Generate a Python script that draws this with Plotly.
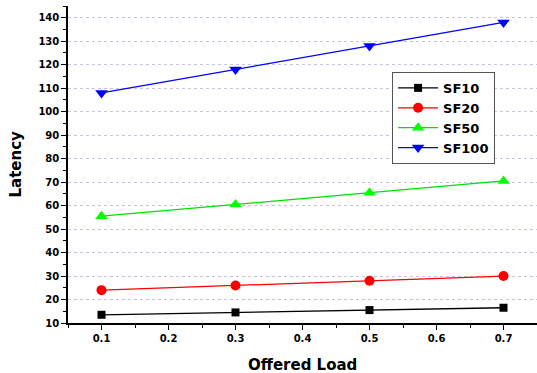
import plotly.graph_objects as go

offered_load = [0.1, 0.3, 0.5, 0.7]
sf10 = [13.5, 14.5, 15.5, 16.5]
sf20 = [24, 26, 28, 30]
sf50 = [55.5, 60.5, 65.5, 70.5]
sf100 = [108, 118, 128, 138]
x_ticks = [0.1, 0.2, 0.3, 0.4, 0.5, 0.6, 0.7]
y_ticks = list(range(10, 141, 10))

series = [
    ("SF10", sf10, "black", "black", "square", 8),
    ("SF20", sf20, "#ff0000", "#ff0000", "circle", 10),
    ("SF50", sf50, "#00e000", "#00ff00", "triangle-up", 11),
    ("SF100", sf100, "#0000ff", "#0000ff", "triangle-down", 11),
]

fig = go.Figure()
for name, vals, lc, mc, sym, sz in series:
    fig.add_trace(go.Scatter(
        x=offered_load, y=vals, name=name, mode="lines+markers",
        line=dict(color=lc, width=1.3),
        marker=dict(symbol=sym, size=sz, color=mc, line=dict(width=0)),
    ))

font = "DejaVu Sans, sans-serif"
title_font = dict(family=font, size=15, color="black", weight="bold")
tick_font = dict(family=font, size=10, color="black", weight="bold")
fig.update_layout(
    width=537, height=373,
    margin=dict(l=68, r=0, t=6, b=50, autoexpand=False),
    paper_bgcolor="white", plot_bgcolor="white",
    font=dict(family=font, color="black"),
    showlegend=True,
    legend=dict(
        x=0.691, y=0.792, xanchor="left", yanchor="top",
        bgcolor="white", bordercolor="#555555", borderwidth=1,
        font=dict(family=font, size=13, color="black", weight="bold"),
        tracegroupgap=0, itemwidth=40,
    ),
    xaxis=dict(
        range=[0.05, 0.75], tickvals=x_ticks, ticktext=[str(v) for v in x_ticks],
        showline=True, linecolor="black", linewidth=1.5,
        ticks="outside", ticklen=5, tickwidth=1.2, tickcolor="black",
        minor=dict(ticks="outside", ticklen=3, dtick=0.05, tick0=0.05, tickcolor="black", showgrid=False),
        showgrid=False, zeroline=False, automargin=False,
        tickfont=tick_font,
    ),
    yaxis=dict(
        range=[10, 145], tickvals=y_ticks,
        showline=True, linecolor="black", linewidth=1.5,
        ticks="outside", ticklen=5, tickwidth=1.2, tickcolor="black",
        minor=dict(ticks="outside", ticklen=3, dtick=5, tick0=0, tickcolor="black", showgrid=False),
        showgrid=True, gridcolor="#c4c4e8", griddash="dot", gridwidth=1,
        zeroline=False, automargin=False,
        tickfont=tick_font,
    ),
    annotations=[
        dict(text="Offered Load", xref="paper", yref="paper", x=0.5, y=-42 / 317,
             xanchor="center", yanchor="middle", showarrow=False, font=title_font),
        dict(text="Latency", xref="paper", yref="paper", x=-53 / 469, y=0.5,
             xanchor="center", yanchor="middle", showarrow=False, textangle=-90, font=title_font),
    ],
)

fig.write_html(
    "out.html",
    config={"displayModeBar": False},
    post_script="document.body.style.margin='0';document.body.style.overflow='hidden';",
)
